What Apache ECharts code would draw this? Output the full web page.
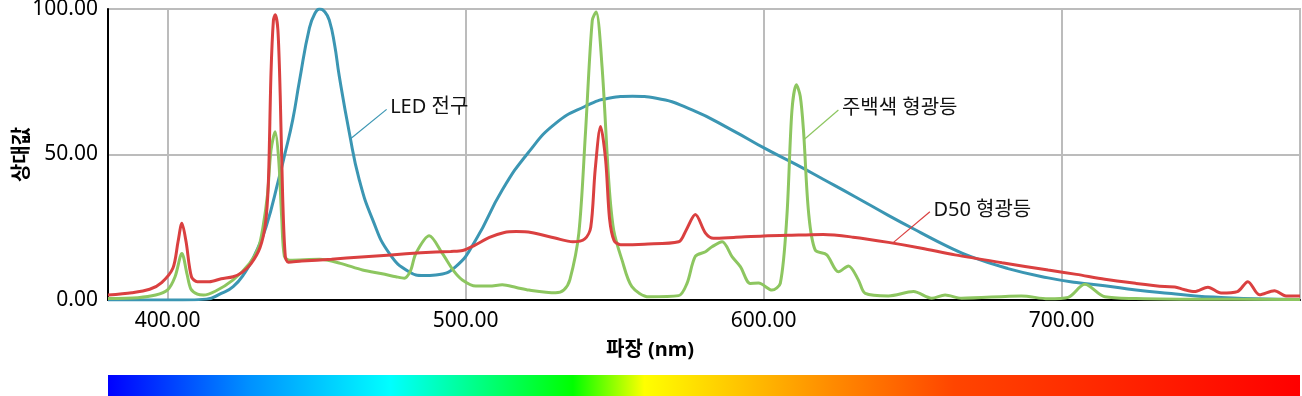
<!DOCTYPE html>
<html>
<head>
<meta charset="utf-8">
<script src="https://cdn.jsdelivr.net/npm/echarts@6/dist/echarts.min.js"></script>
<style>
html,body{margin:0;padding:0;background:#fff;}
#chart{width:1302px;height:396px;}
</style>
</head>
<body>
<div id="chart"></div>
<script>
// ---- data ----
const xTicks = [400, 500, 600, 700];
const yTicks = [0, 50, 100];
const seriesNames = ['LED 전구', '주백색 형광등', 'D50 형광등'];
const xAxisTitle = '파장 (nm)';
const yAxisTitle = '상대값';

const ledData = [
  [380,0],[405,0],[413,0.3],[418,2.3],[422,4.6],[426,9.5],[429,15],[433,25],[437.5,42.4],
  [439.2,49.5],[442,62],[444.2,75],[447.6,93.5],[449.6,98.8],[451,100],[452.8,99],[454.3,96],
  [456,88],[457.6,77],[461,57.4],[464.3,41.4],[468.8,27.6],[474.4,16],[481,9.7],[486,8.4],
  [490,8.6],[496.7,11.5],[503.4,20.6],
  [512.3,37.8],[521.3,51],[530.2,60.7],[540,66.5],[548,69.3],[556,70],[564,69.3],[576,65.3],
  [589.4,58.4],[600.6,52],[611,46.5],[620,41.5],[630.7,35.5],[642,29],[653,23],[661,18.8],
  [669.8,14.8],[682,10.8],[695.5,7.6],[705,6],[714.5,4.9],[725,3.4],[736.8,2.2],[745,1.4],
  [753.5,0.9],[765,0.4],[780,0.2]
];

const whiteData = [
  [380,0.5],[390,0.8],[396,1.7],[400,3.5],[402.5,8],[404.8,16],[406.5,9],[407.8,3.8],[410,2],
  [412,1.7],[416,3],[422,6.9],[427.5,12.6],[430.5,18],[432,25],[433.5,36],[434.7,51.5],
  [436.1,57.8],[437.3,48],[438.3,28],[439.2,15],[441,13.7],[451,14],[458,12.6],[465.4,10.3],
  [472,9],[476.6,8],[479.4,7.5],[481.5,10],[483.3,16],[487.8,22.1],[492.2,16],[496,10],
  [498.9,6.9],[503.4,4.8],[508,4.8],[512.3,5.2],[517,4.3],[521.3,3.4],[530.2,2.5],[533,3.5],
  [535,7],[538,23],[540.2,57],[542.5,96],[543.8,99],[545.8,80],[548.1,40],[549.7,24],
  [552.5,13.7],[555.8,4.6],[561.5,1.1],[571.5,1.5],[574.3,5.7],[577.1,15],[580.5,16.6],
  [582.7,18.3],[586.1,20],[589.4,14.9],[592.2,11.5],[595.5,5.7],[598.3,5.8],[602.8,3.4],
  [605.6,5.7],[607.8,28.6],[609.5,65],[611,74],[612.3,70],[613.4,58],[615.1,30],[617.3,17.2],
  [621.2,15.5],[625.1,9.7],[628.5,11.7],[631.8,6.9],[634.1,2.3],[641.9,1.4],[650.3,2.9],
  [656.4,0.6],[660.9,1.7],[666.4,0.6],[686.5,1.4],[695.5,0.4],[702.2,0.9],[707.8,5.4],
  [714.5,1.1],[725,0.5],[740,0.3],[780,0.2]
];

const d50Data = [
  [380,1.7],[388,2.5],[394,3.7],[398,6],[401.8,11],[403.5,20],[404.8,26.4],[406.2,20],[408,8],
  [410,6.3],[414,6.3],[418,7.3],[422,8],[425,9.5],[428,12.5],[431,18],[432.8,26],[433.8,40],
  [434.7,78],[435.5,96],[436.1,98],[437,93],[437.8,70],[438.6,36],[439.5,15],[440.5,13],
  [445,13.4],[455,14],[465,14.8],[475,15.5],[485,16.2],[495,16.7],[499,17],[503,18.8],
  [508,21.5],[513,23.2],[517,23.5],[522,23.2],[530,21.3],[536,20],[540,21],[542,25],
  [543.5,45],[545.3,59.6],[547,48],[548.3,28],[549.8,20.5],[552,19],[560,19.2],[571.5,20],
  [574,24],[577.1,29.4],[580.5,23],[583.2,21.2],[590,21.5],[600,22],[611.7,22.3],[620,22.5],
  [630,21.6],[641.9,19.8],[653,17.8],[664.2,15.5],[680,12.8],[695.5,10.3],[705,8.8],
  [714.5,7.1],[725,5.7],[734.6,4.6],[738,4.5],[741,3.6],[744.6,2.9],[749.1,4.4],[753.5,2.4],
  [759,2.9],[762.5,6.3],[766.4,1.8],[771.4,3.2],[775.3,1.4],[780,1.4]
];

// annotation leaders (data coordinates): [from, to]
const ledLeader = [[461.5,55.5],[473.5,65.5]];
const whiteLeader = [[613.4,55],[625.1,65.3]];
const d50Leader = [[643.6,19.8],[655.8,30.3]];

// ---- styles ----
const colors = ['#3b96b3', '#8dc660', '#da4040'];
const FONT = "'Noto Sans', 'Noto Sans CJK KR', sans-serif";

function makeSeries(name, data, color, leader, smooth) {
  return {
    name, type: 'line', data,
    smooth,
    showSymbol: false,
    lineStyle: { color, width: 3 },
    itemStyle: { color },
    z: 3,
    animation: false,
    markLine: {
      silent: true, symbol: ['none','none'], animation: false,
      label: { show: false },
      lineStyle: { color, width: 1.2, type: 'solid' },
      data: [[{ coord: leader[0] }, { coord: leader[1] }]]
    },
    markPoint: {
      silent: true, animation: false,
      data: [{
        coord: leader[1], symbol: 'circle', symbolSize: 1,
        itemStyle: { color: 'rgba(0,0,0,0)' },
        label: {
          show: true, position: 'right', distance: 3, offset: [0, -2],
          formatter: name, color: '#111', fontSize: 20, fontFamily: FONT
        }
      }]
    }
  };
}

const chart = echarts.init(document.getElementById('chart'), null, { renderer: 'canvas' });
chart.setOption({
  animation: false,
  backgroundColor: '#fff',
  textStyle: { fontFamily: FONT },
  grid: { left: 108, right: 2, top: 9, bottom: 96, show: true, borderColor: '#bcbcbc', borderWidth: 2,
          containLabel: false, outerBoundsMode: 'none' },
  xAxis: {
    type: 'value', min: 380, max: 780,
    axisLine: { show: true, onZero: false, lineStyle: { color: '#000', width: 2 } },
    axisTick: { show: false, customValues: xTicks },
    axisLabel: { customValues: xTicks, formatter: v => v.toFixed(2), color: '#000', fontSize: 21, margin: 11, fontFamily: FONT },
    splitLine: { show: true, lineStyle: { color: '#bcbcbc', width: 2 } }
  },
  yAxis: {
    type: 'value', min: 0, max: 100, interval: 50,
    name: yAxisTitle, nameLocation: 'middle', nameGap: 76, nameRotate: 90, nameMoveOverlap: false,
    nameTextStyle: { fontSize: 20, fontWeight: 'bold', color: '#000', fontFamily: FONT },
    axisLine: { show: true, lineStyle: { color: '#000', width: 2 } },
    axisTick: { show: false },
    axisLabel: { formatter: v => v.toFixed(2), color: '#000', fontSize: 21, margin: 10, fontFamily: FONT },
    splitLine: { show: true, lineStyle: { color: '#bcbcbc', width: 2 } }
  },
  graphic: [
    {
      type: 'text', left: 606, top: 340,
      style: { text: xAxisTitle, fill: '#000', font: "bold 20px 'Noto Sans', 'Noto Sans CJK KR', sans-serif" }
    },
    {
      type: 'rect', shape: { x: 108, y: 375, width: 1192, height: 21 },
      style: {
        fill: new echarts.graphic.LinearGradient(0, 0, 1, 0, [
          { offset: 0, color: '#0000ff' },
          { offset: 0.118, color: '#0090ff' },
          { offset: 0.237, color: '#00ffff' },
          { offset: 0.39, color: '#00ff00' },
          { offset: 0.45, color: '#ffff00' },
          { offset: 0.606, color: '#ff8c00' },
          { offset: 0.71, color: '#ff4500' },
          { offset: 1, color: '#ff0000' }
        ])
      }
    }
  ],
  series: [
    makeSeries(seriesNames[0], ledData, colors[0], ledLeader, 0.5),
    makeSeries(seriesNames[1], whiteData, colors[1], whiteLeader, 0.3),
    makeSeries(seriesNames[2], d50Data, colors[2], d50Leader, 0.3)
  ]
});
</script>
</body>
</html>
